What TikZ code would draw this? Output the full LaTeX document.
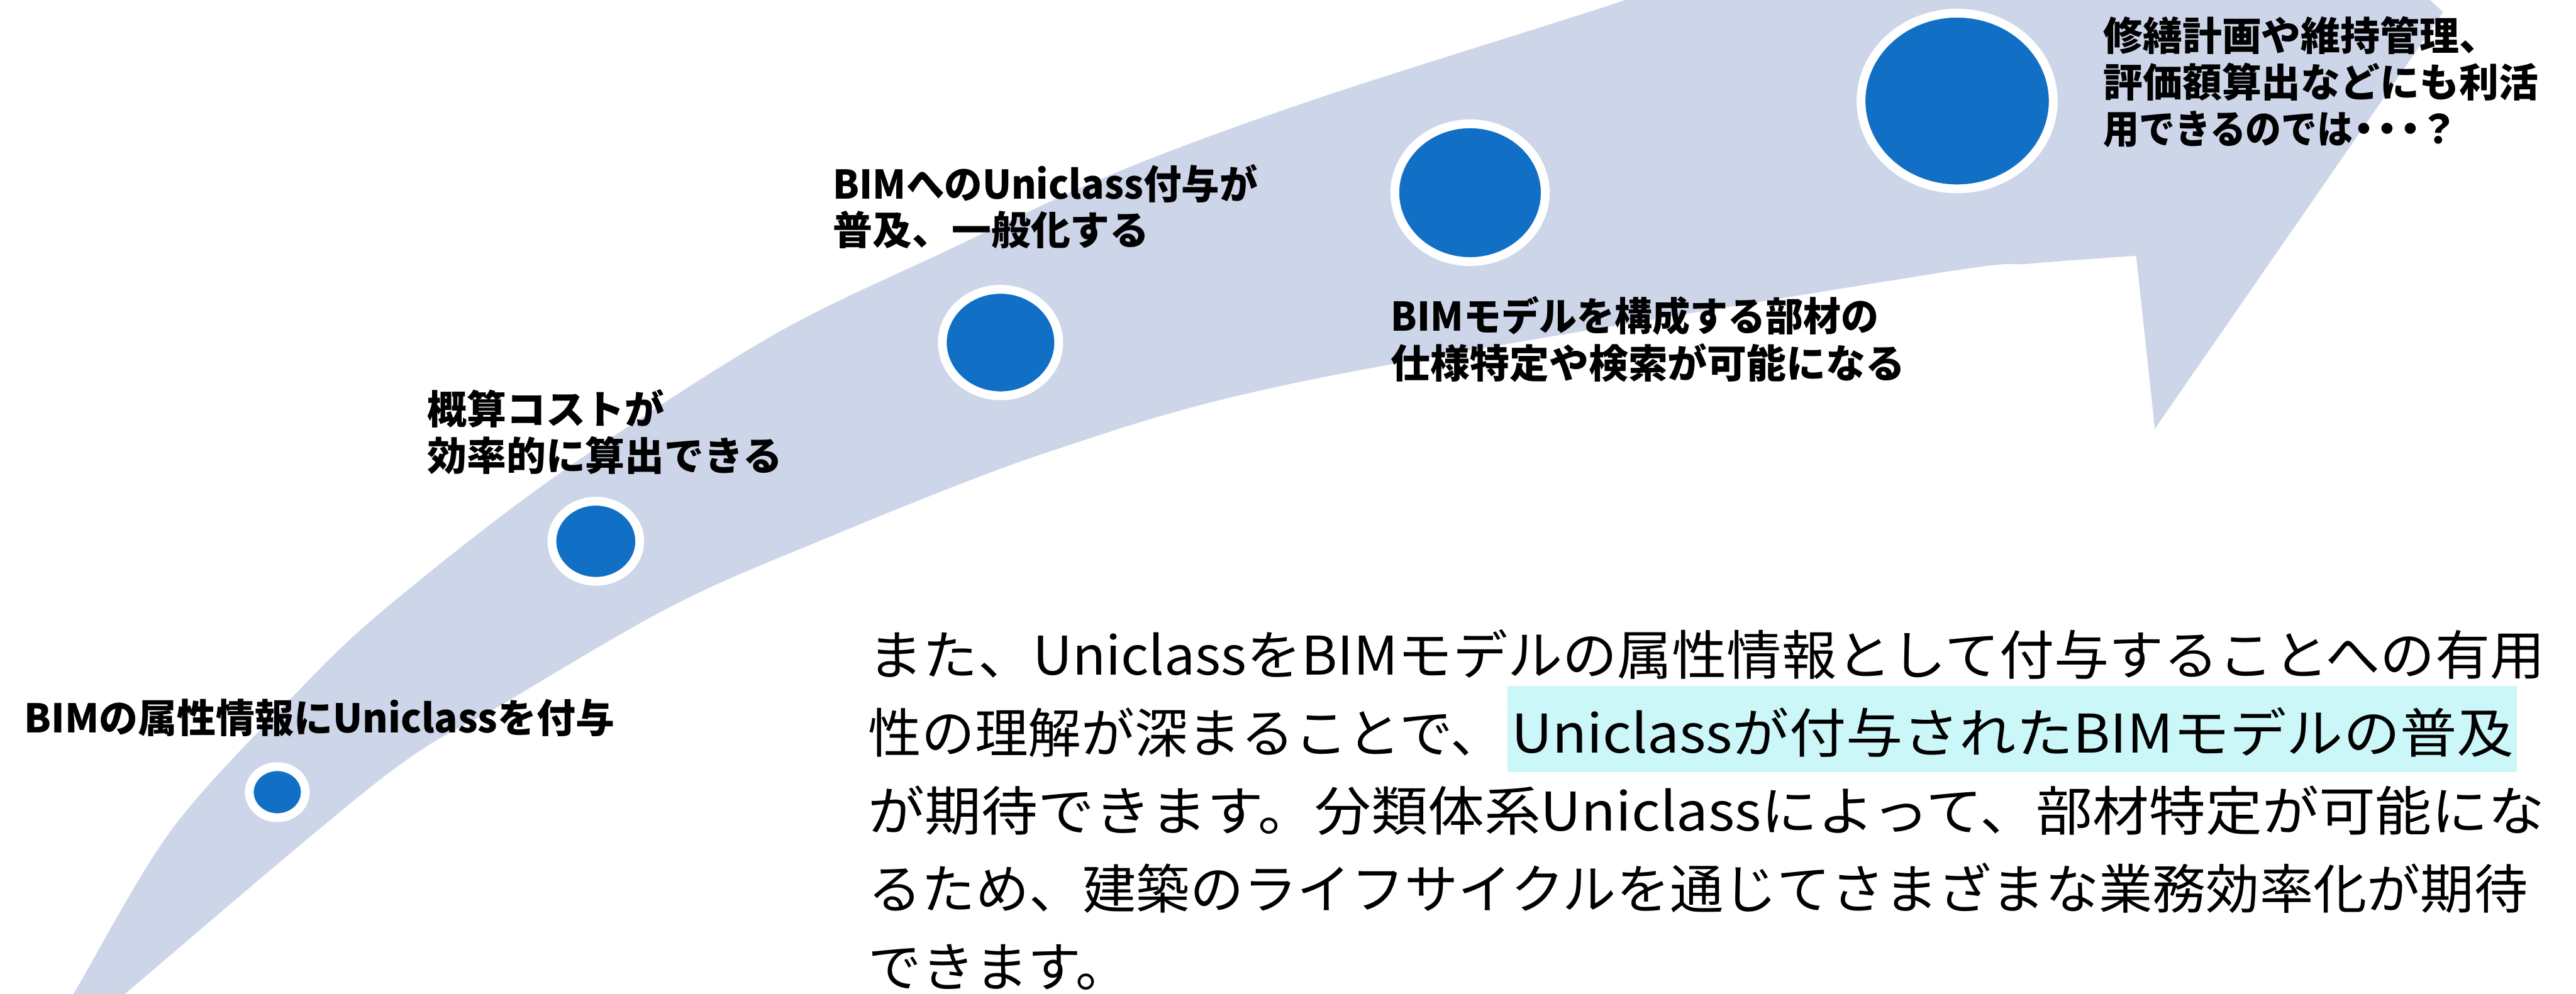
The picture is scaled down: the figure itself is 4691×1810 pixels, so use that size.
\documentclass[tikz,border=0pt]{standalone}
\usepackage{graphicx}
\usepackage{fontspec}
\setmainfont{Noto Sans CJK JP}
\usetikzlibrary{shapes.geometric}
\definecolor{bandcol}{RGB}{205,213,233}
\definecolor{dotblue}{RGB}{17,112,198}
\definecolor{hlcyan}{RGB}{204,247,248}
\newcommand\fitw[2]{\resizebox{#1}{\height}{#2}}
\tikzset{
  band/.style={fill=bandcol},
  hlbox/.style={fill=hlcyan},
  dot/.style={ellipse, fill=dotblue, draw=white, line width=16pt, inner sep=0pt, outer sep=0pt},
  lbl/.style={anchor=base west, inner sep=0pt, font=\fontsize{72}{86}\selectfont\bfseries},
  body/.style={anchor=base west, inner sep=0pt, font=\fontsize{97}{142}\selectfont},
}
\begin{document}
\begin{tikzpicture}[x=1pt,y=-1pt]
\useasboundingbox (0,0) rectangle (4691,1810);
% curved arrow band
\begin{scope}
\clip (0,0) rectangle (4691,1810);
\fill[band] plot[smooth, tension=0.55] coordinates {(98,1860) (134,1810) (312,1512) (536,1266) (700,1110) (1008,870) (1400,615) (1719,459) (2038,312) (2400,179) (2960,0) (3300,-120)}
  -- (3808,-292) -- (3774,-607) -- (4449,22) -- (3924,781) -- (3890,466)
  -- plot[smooth, tension=0.55] coordinates {(3890,466) (3700,480) (3500,502) (2400,689) (1910,823) (1457,1000) (1212,1110) (918,1281) (700,1414) (228,1810) (172,1860)}
  -- cycle;
\end{scope}
% milestones
\node[dot, minimum width=102pt, minimum height=93pt] (c1) at (505,1443) {};
\node[dot, minimum width=160pt, minimum height=146pt] (c2) at (1085,986) {};
\node[dot, minimum width=212pt, minimum height=194pt] (c3) at (1822,624) {};
\node[dot, minimum width=274pt, minimum height=251pt] (c4) at (2677,351) {};
\node[dot, minimum width=350pt, minimum height=320pt] (c5) at (3564,184) {};
% labels
\node[lbl] (lA) at (44,1335) {\fitw{1075pt}{BIMの属性情報にUniclassを付与}};
\node[lbl] (lB1) at (778,772) {概算コストが};
\node[lbl] (lB2) at (778,857) {効率的に算出できる};
\node[lbl] (lD1) at (1517,362) {\fitw{773pt}{BIMへのUniclass付与が}};
\node[lbl] (lD2) at (1517,446) {普及、一般化する};
\node[lbl] (lC1) at (2533,603) {\fitw{888pt}{BIMモデルを構成する部材の}};
\node[lbl] (lC2) at (2533,689) {仕様特定や検索が可能になる};
\node[lbl] (lE1) at (3830,92) {修繕計画や維持管理、};
\node[lbl] (lE2) at (3830,177) {評価額算出などにも利活};
\node[lbl] (lE3) at (3830,262) {\fitw{455pt}{用できるのでは}\makebox[40pt]{・}\makebox[43pt]{・}\makebox[43pt]{・}\makebox[60pt]{？}};
% body text
\fill[hlbox] (2745,1250) rectangle (4583,1406);
\node[body] (t1) at (1581,1229) {\fitw{3053pt}{また、UniclassをBIMモデルの属性情報として付与することへの有用}};
\node[body] (t2a) at (1581,1371) {性の理解が深まることで、};
\node[body] (t2b) at (2752,1371) {\fitw{1825pt}{Uniclassが付与されたBIMモデルの普及}};
\node[body] (t3) at (1581,1513) {\fitw{3053pt}{が期待できます。分類体系Uniclassによって、部材特定が可能にな}};
\node[body] (t4) at (1581,1655) {\fitw{3022pt}{るため、建築のライフサイクルを通じてさまざまな業務効率化が期待}};
\node[body] (t5) at (1581,1797) {できます。};
\end{tikzpicture}
\end{document}
